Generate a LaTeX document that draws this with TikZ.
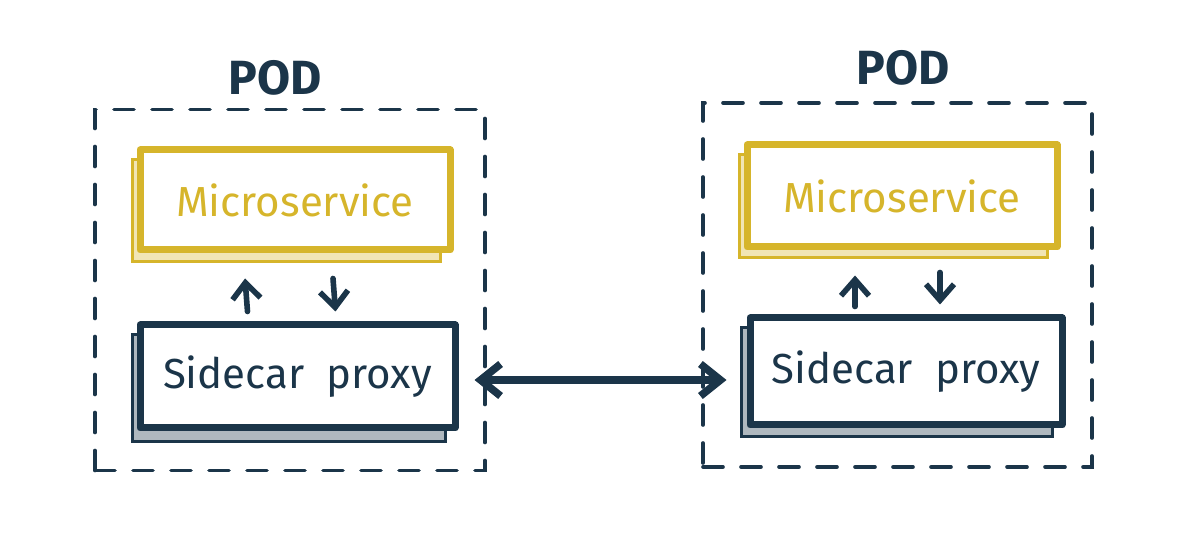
\documentclass[tikz,border=0pt]{standalone}
\usepackage{fontspec}
\setmainfont{Fira Sans}
\usetikzlibrary{arrows.meta}
\definecolor{navy}{HTML}{1B3549}
\definecolor{mustard}{HTML}{D6B52B}
\tikzset{
  podbox/.style={draw=navy, line width=1.8pt, dash pattern=on 10pt off 9pt, line cap=round, rectangle, inner sep=0pt},
  podlabel/.style={text=navy, font=\fontsize{24}{28}\selectfont\bfseries},
  msbox/.style={draw=mustard, fill=white, line width=3.5pt, line cap=round, line join=round, text=mustard, font=\fontsize{21}{25}\selectfont, inner sep=0pt},
  scbox/.style={draw=navy, fill=white, line width=3.5pt, line cap=round, line join=round, text=navy, font=\fontsize{21}{25}\selectfont, inner sep=0pt},
  msshadow/.style={draw=mustard, fill=mustard!35, line width=1.5pt},
  scshadow/.style={draw=navy, fill=navy!35, line width=1.5pt},
  flow/.style={draw=navy, line width=2.8pt, line cap=round, -{Straight Barb[line width=2.8pt, length=8pt, width=14pt]}},
  link/.style={draw=navy, line width=3.8pt, line cap=round, {Straight Barb[line width=3.8pt, length=10pt, width=16pt]}-{Straight Barb[line width=3.8pt, length=10pt, width=16pt]}}
}
\begin{document}
\begin{tikzpicture}[x=0.5pt,y=-0.5pt]
\useasboundingbox (0,0) rectangle (1200,550);
% pods
\node[podbox, minimum width=195pt, minimum height=180.5pt] (pod1) at (290,290) {};
\node[podbox, minimum width=194.5pt, minimum height=182pt] (pod2) at (897.5,285) {};
\node[podlabel] (pod1lbl) at (275,78) {POD};
\node[podlabel] (pod2lbl) at (903,68) {POD};
% shadows
\draw[msshadow] (132,160) rectangle (440,262);
\draw[scshadow] (132,335) rectangle (445,442);
\draw[msshadow] (739,155) rectangle (1047,258);
\draw[scshadow] (741,328) rectangle (1052,437);
% boxes
\node[msbox, minimum width=155pt, minimum height=50pt] (ms1) at (295,200) {Microservice};
\node[scbox, minimum width=157.5pt, minimum height=51.5pt] (sc1) at (297.5,376.5) {Sidecar\ \ proxy};
\node[msbox, minimum width=155pt, minimum height=51pt] (ms2) at (902,196) {Microservice};
\node[scbox, minimum width=156pt, minimum height=53.5pt] (sc2) at (906,371.5) {Sidecar\ \ proxy};
% internal flows
\draw[flow] ([xshift=-25pt,yshift=5pt]sc1.north) -- ([xshift=-25pt,yshift=-12.5pt]ms1.south);
\draw[flow] ([xshift=19pt,yshift=-12.5pt]ms1.south) -- ([xshift=19pt,yshift=5pt]sc1.north);
\draw[flow] ([xshift=-25.5pt,yshift=4pt]sc2.north) -- ([xshift=-23.5pt,yshift=-12.5pt]ms2.south);
\draw[flow] ([xshift=19pt,yshift=-11pt]ms2.south) -- ([xshift=17pt,yshift=5pt]sc2.north);
% link between proxies
\draw[link] ([xshift=8pt,yshift=-1.75pt]sc1.east) -- ([xshift=-10pt,yshift=-4.25pt]sc2.west);
\end{tikzpicture}
\end{document}
